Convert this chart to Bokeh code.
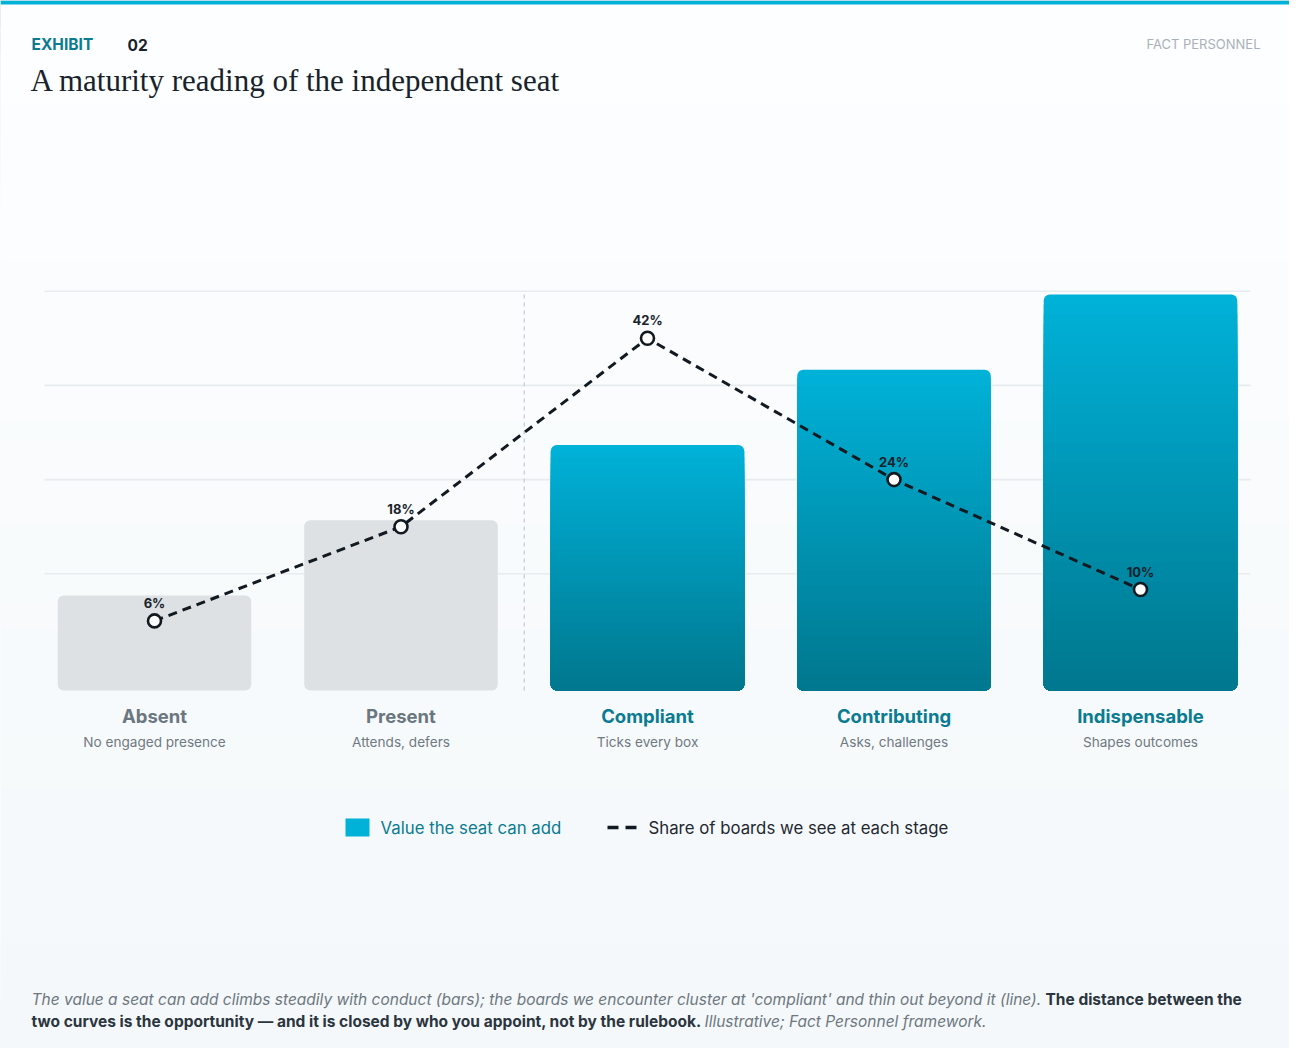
import numpy as np
from bokeh.plotting import figure
from bokeh.models import Range1d, ColumnDataSource, BoxAnnotation
from bokeh.core.properties import value
from bokeh.embed import file_html
from bokeh.resources import INLINE

# ---------------- data ----------------
stages = ["Absent", "Present", "Compliant", "Contributing", "Indispensable"]
stage_notes = ["No engaged presence", "Attends, defers", "Ticks every box",
               "Asks, challenges", "Shapes outcomes"]
value_index = [24, 43, 62, 81, 100]          # value the seat can add (bars)
share_pct = [6, 18, 42, 24, 10]              # share of boards at each stage (line)
grid_pct = [12, 24, 36, 48]
engaged = [False, False, True, True, True]

# ---------------- layout constants ----------------
W, H = 1289, 1048
OX, OY = 8, 8                 # page offset of the canvas
CX0, STEP = 162, 246.5        # page x of first category centre, spacing
ZERO_Y, PPP = 675.5, 7.85     # page y of 0 %, pixels per %
BZERO_Y, BPP = 698.0, 3.96    # page y of bar base, pixels per value unit

def X2x(X):
    return (X - CX0) / STEP

def Y2y(Y):
    return (ZERO_Y - Y) / PPP

SANS = value("Inter")
SERIF = value("Liberation Serif")
TEAL = "#0a7b91"
CYAN = "#00b2d8"
DARK = "#18222b"
INK = "#121a21"

def lerp_col(c0, c1, t):
    a = np.array([int(c0[i:i + 2], 16) for i in (1, 3, 5)], float)
    b = np.array([int(c1[i:i + 2], 16) for i in (1, 3, 5)], float)
    c = a + (b - a) * t
    return "#%02x%02x%02x" % tuple(int(round(v)) for v in c)

p = figure(width=W, height=H, output_backend="svg", toolbar_location=None,
           x_axis_type=None, y_axis_type=None, min_border=0,
           x_range=Range1d(X2x(OX), X2x(OX + W)),
           y_range=Range1d(Y2y(OY + H), Y2y(OY)))
p.extra_y_ranges = {"val": Range1d((BZERO_Y - (OY + H)) / BPP, (BZERO_Y - OY) / BPP)}
p.background_fill_color = "#f9fbfc"
p.border_fill_color = "#f9fbfc"
p.outline_line_color = "#e3e7ea"
p.outline_line_width = 2
p.grid.visible = False

# subtle vertical background gradient (nested, no seams)
nb = 40
bg_top = [Y2y(OY + H * k / nb) for k in range(nb)]
bg_cols = [lerp_col("#fdfeff", "#f4f8fa", k / (nb - 1)) for k in range(nb)]
p.quad(left=X2x(OX), right=X2x(OX + W), top=bg_top, bottom=Y2y(OY + H),
       fill_color=bg_cols, line_color=None, level="underlay")

# top accent bar
p.add_layout(BoxAnnotation(top=Y2y(OY), bottom=Y2y(OY + 4), left=X2x(OX), right=X2x(OX + W),
                           fill_color=CYAN, fill_alpha=1, line_color=None))

# header
p.text(x=[X2x(39)], y=[Y2y(52)], text=["EXHIBIT"], text_font=SANS, text_font_size="15.5px",
       text_font_style="bold", text_color=TEAL, text_baseline="middle", text_align="left")
p.text(x=[X2x(135)], y=[Y2y(52)], text=["02"], text_font=SANS, text_font_size="15.5px",
       text_font_style="bold", text_color=DARK, text_baseline="middle", text_align="left")
p.text(x=[X2x(1268)], y=[Y2y(51.5)], text=["FACT PERSONNEL"], text_font=SANS,
       text_font_size="13px", text_color="#a9b1b8", text_baseline="middle", text_align="right")
p.text(x=[X2x(38)], y=[Y2y(88)], text=["A maturity reading of the independent seat"],
       text_font=SERIF, text_font_size="31px", text_color=DARK,
       text_baseline="middle", text_align="left")

xs = np.arange(len(stages), dtype=float)
left_edge, right_edge = X2x(52), X2x(1258)

# grid lines
p.segment(x0=left_edge, x1=right_edge, y0=grid_pct, y1=grid_pct,
          line_color="#e8ecef", line_width=1.6)

# divider between disengaged and engaged stages
base_pct = Y2y(BZERO_Y)
p.segment(x0=[1.5], x1=[1.5], y0=[base_pct], y1=[max(grid_pct)],
          line_color="#cdd3d8", line_width=1.5, line_dash="4 4")

BW = 0.785
R = 6
# grey bars
gx = [x for x, e in zip(xs, engaged) if not e]
gv = [v for v, e in zip(value_index, engaged) if not e]
p.vbar(x=gx, top=gv, bottom=0, width=BW, y_range_name="val",
       fill_color="#dde1e3", line_color=None, border_radius=R)

# gradient bars: nested bars of decreasing height, each drawn over the previous
N = 40
TOP_C, BOT_C = "#00b2d9", "#00778e"
full = dict(x=[], top=[], c=[])
inner = dict(x=[], top=[], c=[])
for x, v, e in zip(xs, value_index, engaged):
    if not e:
        continue
    for k in range(N):
        frac = (N - k) / N
        c = lerp_col(BOT_C, TOP_C, (N - k - 0.5) / N)
        d = full if k == 0 else inner
        d["x"].append(x); d["top"].append(v * frac); d["c"].append(c)
p.vbar(x="x", top="top", bottom=0, width=BW, source=ColumnDataSource(full),
       y_range_name="val", fill_color="c", line_color=None, border_radius=R)
p.vbar(x="x", top="top", bottom=0, width=BW, source=ColumnDataSource(inner),
       y_range_name="val", fill_color="c", line_color=None, border_radius=(0, 0, R, R))

# share line
p.line(x=xs, y=share_pct, line_color=INK, line_width=3, line_dash="9 6")
p.scatter(x=xs, y=share_pct, size=13, fill_color="white", line_color=INK, line_width=2.6)
p.text(x=xs, y=share_pct, text=[f"{v}%" for v in share_pct], y_offset=-18,
       text_font=SANS, text_font_size="13px", text_font_style="bold", text_color=DARK,
       text_align="center", text_baseline="middle")

# category labels
name_cols = [TEAL if e else "#6b7780" for e in engaged]
p.text(x=xs, y=Y2y(723), text=stages, text_font=SANS, text_font_size="18.5px",
       text_font_style="bold", text_color=name_cols, text_align="center", text_baseline="middle")
p.text(x=xs, y=Y2y(749), text=stage_notes, text_font=SANS, text_font_size="13.6px",
       text_color="#6f7982", text_align="center", text_baseline="middle")

# legend
p.quad(left=[X2x(353)], right=[X2x(377)], top=[Y2y(826)], bottom=[Y2y(844)],
       fill_color=CYAN, line_color=None)
p.text(x=[X2x(388)], y=[Y2y(835)], text=["Value the seat can add"], text_font=SANS,
       text_font_size="16.8px", text_color=TEAL, text_align="left", text_baseline="middle")
p.segment(x0=[X2x(615)], x1=[X2x(645)], y0=[Y2y(835)], y1=[Y2y(835)],
          line_color=INK, line_width=3.5, line_dash="11 7")
p.text(x=[X2x(656)], y=[Y2y(835)], text=["Share of boards we see at each stage"],
       text_font=SANS, text_font_size="16.8px", text_color="#1e2831",
       text_align="left", text_baseline="middle")

# footnote
FN = "15.5px"
p.text(x=[X2x(39)], y=[Y2y(1007)],
       text=["The value a seat can add climbs steadily with conduct (bars); the boards we encounter "
             "cluster at 'compliant' and thin out beyond it (line)."],
       text_font=SANS, text_font_size=FN, text_font_style="italic", text_color="#6d7780",
       text_align="left", text_baseline="middle")
p.text(x=[X2x(1053)], y=[Y2y(1007)], text=["The distance between the"],
       text_font=SANS, text_font_size=FN, text_font_style="bold", text_color="#2b353e",
       text_align="left", text_baseline="middle")
p.text(x=[X2x(39)], y=[Y2y(1029)],
       text=["two curves is the opportunity \u2014 and it is closed by who you appoint, not by the rulebook."],
       text_font=SANS, text_font_size=FN, text_font_style="bold", text_color="#2b353e",
       text_align="left", text_baseline="middle")
p.text(x=[X2x(712)], y=[Y2y(1029)], text=["Illustrative; Fact Personnel framework."],
       text_font=SANS, text_font_size=FN, text_font_style="italic", text_color="#6d7780",
       text_align="left", text_baseline="middle")

open("out.html", "w").write(file_html(p, INLINE))
